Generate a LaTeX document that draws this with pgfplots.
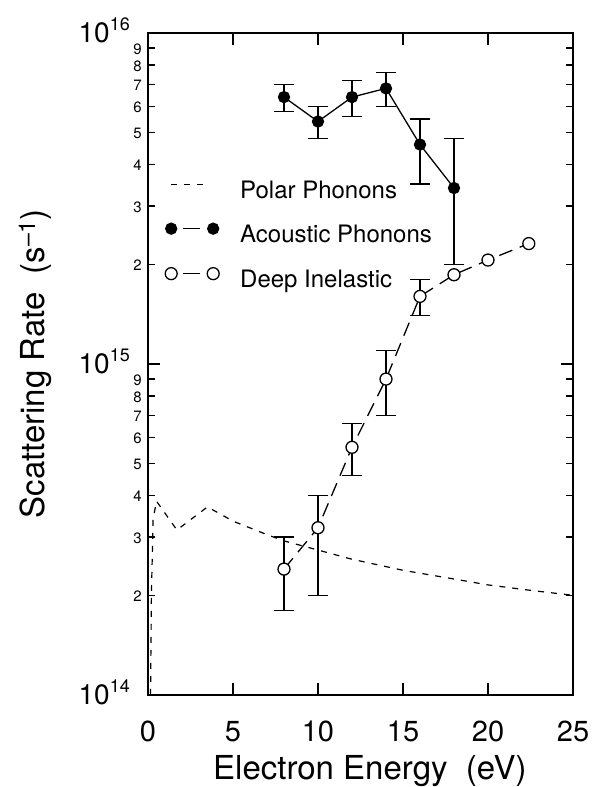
\documentclass[border=0pt]{standalone}
\usepackage{fontspec}
\setmainfont{TeX Gyre Heros}
\usepackage{pgfplots}
\pgfplotsset{compat=1.18}
\newcommand{\bigexp}[1]{10\raisebox{12pt}{\fontsize{18}{18}\selectfont #1}}
\begin{document}
\begin{tikzpicture}
\path[use as bounding box] (-148pt,-92pt) rectangle (448pt,695pt);
\begin{axis}[
  at={(0,0)}, anchor=south west,
  scale only axis, width=425pt, height=662pt,
  xmin=0, xmax=25, ymin=1e14, ymax=1e16,
  ymode=log,
  /pgf/number format/assume math mode=true,
  xtick={0,5,10,15,20,25},
  ytick={1e14,1e15,1e16},
  yticklabels={\bigexp{14},\bigexp{15},\bigexp{16}},
  extra y ticks={2e14,3e14,4e14,5e14,6e14,7e14,8e14,9e14,2e15,3e15,4e15,5e15,6e15,7e15,8e15,9e15},
  extra y tick labels={2,3,4,5,6,7,8,9,2,3,4,5,6,7,8,9},
  extra y tick style={major tick length=7pt, yticklabel style={font=\fontsize{15}{15}\selectfont, xshift=12pt, yshift=4pt}},
  tick align=inside,
  major tick length=12pt,
  minor tick length=0pt,
  tick style={line width=1.2pt, black},
  axis line style={line width=1.6pt},
  xticklabel style={anchor=base, inner sep=0pt, yshift=-47pt, font=\fontsize{29}{29}\selectfont},
  yticklabel style={anchor=base east, inner sep=0pt, xshift=-18pt, yshift=-10pt, font=\fontsize{28}{28}\selectfont},
  xlabel={Electron Energy\ \ (eV)},
  ylabel={Scattering Rate\ \ (s\textsuperscript{–1})},
  xlabel style={at={(axis description cs:0.522,-0.1284)}, anchor=base, font=\fontsize{33}{38}\selectfont},
  ylabel style={at={(axis description cs:-0.2659,0.5)}, anchor=center, font=\fontsize{33}{38}\selectfont},
  legend style={at={(axis description cs:0.04,0.7764)}, anchor=north west, draw=none, fill=none,
    font=\fontsize{24}{28}\selectfont, inner sep=0pt, row sep=20pt, column sep=21pt,
    nodes={inner sep=0pt, text height=17pt, text depth=5pt}},
  legend cell align=left,
]
\addplot[black, line width=1.2pt, dash pattern=on 6pt off 7pt, no marks,
  legend image code/.code={\draw (0pt,8pt) -- (34pt,8pt);}]
  coordinates {(0.15,1.0e14) (0.2,2.0e14) (0.3,3.4e14) (0.5,3.85e14) (1.7,3.15e14) (3.5,3.7e14)
   (5,3.35e14) (7,3.05e14) (8,2.92e14) (10,2.74e14) (12,2.57e14) (15,2.38e14) (18,2.24e14)
   (20,2.15e14) (22.5,2.07e14) (25,2.0e14)};
\addlegendentry{Polar Phonons}
% acoustic error bars
\addplot[black, line width=1.3pt, mark=-, mark size=10pt, mark options={solid}, unbounded coords=jump, forget plot]
  coordinates {(8,5.8e15) (8,7.0e15) (8,nan) (10,4.8e15) (10,6.0e15) (10,nan)
   (12,5.6e15) (12,7.2e15) (12,nan) (14,6.0e15) (14,7.6e15) (14,nan)
   (16,3.5e15) (16,5.5e15) (16,nan) (18,2.0e15) (18,4.8e15)};
\addplot[black, line width=1.3pt, mark=*, mark size=5.5pt, mark options={solid},
  legend image code/.code={\draw[solid] (12pt,8pt) -- (29pt,8pt);
    \draw plot[only marks] coordinates {(0pt,8pt) (42pt,8pt)};}]
  coordinates {(8,6.4e15) (10,5.4e15) (12,6.4e15) (14,6.8e15) (16,4.6e15) (18,3.4e15)};
\addlegendentry{Acoustic Phonons}
% deep inelastic error bars
\addplot[black, line width=1.3pt, mark=-, mark size=10pt, mark options={solid}, unbounded coords=jump, forget plot]
  coordinates {(8,1.8e14) (8,3.0e14) (8,nan) (10,2.0e14) (10,4.0e14) (10,nan)
   (12,4.6e14) (12,6.6e14) (12,nan) (14,7.0e14) (14,1.1e15) (14,nan)
   (16,1.4e15) (16,1.8e15)};
\addplot[black, line width=1.3pt, dash pattern=on 14pt off 8pt, mark=*, mark size=6pt,
  mark options={solid, fill=white, draw=black},
  legend image code/.code={\draw[solid] (12pt,8pt) -- (29pt,8pt);
    \draw plot[only marks] coordinates {(0pt,8pt) (42pt,8pt)};}]
  coordinates {(8,2.4e14) (10,3.2e14) (12,5.6e14) (14,9.0e14) (16,1.6e15) (18,1.86e15) (20,2.06e15) (22.4,2.31e15)};
\addlegendentry{Deep Inelastic}
\end{axis}
\end{tikzpicture}
\end{document}
